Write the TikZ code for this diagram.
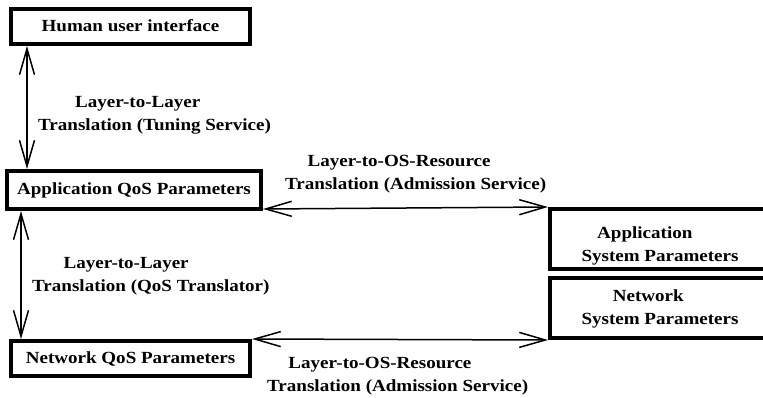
\documentclass[tikz,border=0pt]{standalone}
\usepackage{fontspec}
\setmainfont{Liberation Serif}[BoldFont={Liberation Serif Bold}]
\usepackage{graphicx}
\usepackage{tikz}
\usetikzlibrary{arrows.meta}
\newcommand{\stretchtxt}[1]{\scalebox{1.12}[1]{\begin{tabular}{@{}l@{}}#1\end{tabular}}}

\begin{document}
\begin{tikzpicture}[x=1pt, y=-1pt, font=\fontsize{17}{23}\selectfont\bfseries,
    box/.style={draw, line width=4pt, inner sep=0pt},
    lbl/.style={anchor=west, inner sep=0pt},
    link/.style={line width=1.5pt, {Straight Barb[length=26pt,width=15pt]}-{Straight Barb[length=26pt,width=15pt]}}]
  \useasboundingbox (0,0) rectangle (763,397);
  \node[box, minimum width=239pt, minimum height=35pt] (hui) at (130.5,26.5) {\stretchtxt{Human user interface}};
  \node[box, minimum width=254pt, minimum height=38pt] (aqos) at (134,190) {\stretchtxt{Application QoS Parameters}};
  \node[box, minimum width=239pt, minimum height=35pt] (nqos) at (130.5,358.5) {\stretchtxt{Network QoS Parameters}};
  \node[box, minimum width=220pt, minimum height=60pt] (asys) at (660,239) {};
  \node[inner sep=0pt] (asyslbl) at (660,245) {\stretchtxt{\hspace*{14pt}Application\\System Parameters}};
  \node[box, minimum width=220pt, minimum height=60pt] (nsys) at (660,308) {\stretchtxt{\hspace*{28pt}Network\\System Parameters}};
  \node[lbl] (tune) at (38,114.5) {\stretchtxt{\hspace*{33pt}Layer-to-Layer\\Translation (Tuning Service)}};
  \node[lbl] (qtr) at (32,275) {\stretchtxt{\hspace*{28pt}Layer-to-Layer\\Translation (QoS Translator)}};
  \node[lbl] (adma) at (285,173) {\stretchtxt{\hspace*{20pt}Layer-to-OS-Resource\\Translation (Admission Service)}};
  \node[lbl] (admn) at (267,375) {\stretchtxt{\hspace*{19pt}Layer-to-OS-Resource\\Translation (Admission Service)}};
  \draw[link] ([xshift=18pt]hui.south west) -- ([xshift=22pt]aqos.north west);
  \draw[link] ([xshift=16pt]aqos.south west) -- ([xshift=12pt]nqos.north west);
  \draw[link] ([yshift=2pt]aqos.south east) -- (asys.north west);
  \draw[link] (nqos.north east) -- (nsys.south west);
\end{tikzpicture}
\end{document}
